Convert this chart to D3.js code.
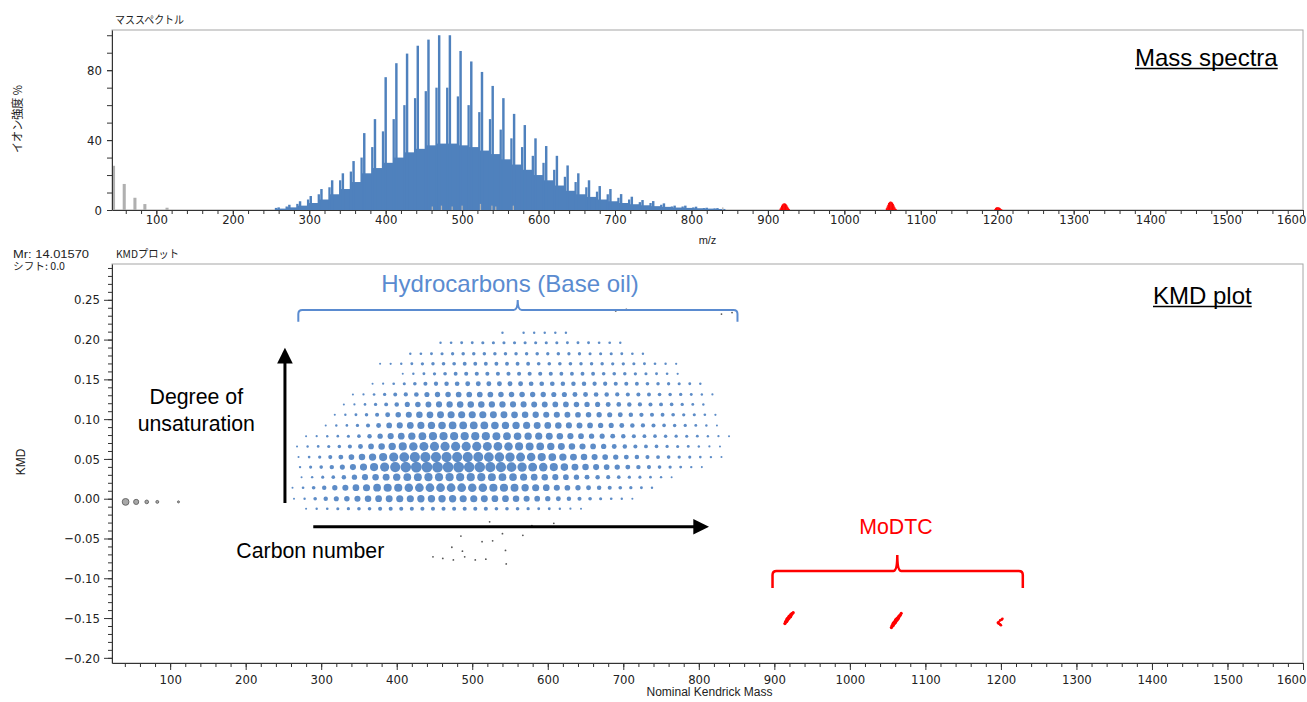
<!DOCTYPE html>
<html>
<head>
<meta charset="utf-8">
<title>Mass spectra / KMD plot</title>
<script src="https://cdn.jsdelivr.net/npm/d3@7"></script>
<style>
  body { margin: 0; background: #fff; }
  svg { display: block; }
</style>
</head>
<body>
<svg id="chart" width="1307" height="702"></svg>
<script>

// ---------- data ----------

// mass spectrum: CH2 ladder peaks (m/z), their height, the neighbour peak just below, and the fill in between (%)
var specMass   = [260, 274, 288, 302, 316, 330, 344, 358, 372, 386, 400, 414, 428, 442, 456, 470, 484, 498, 512, 526, 540,
                  554, 568, 582, 596, 610, 624, 638, 652, 666, 680, 694, 708, 722, 736, 750, 764, 778, 792, 806, 820, 834];
var specMain   = [1.5, 3, 5, 8, 12, 17, 21, 28, 44, 52, 76, 84, 89.5, 94, 97.5, 100, 100, 91, 85, 79, 71,
                  64, 55, 48.6, 41, 36.6, 31, 25.5, 21, 17, 13.7, 12, 9.1, 7.6, 5.7, 5.1, 3.8, 2.5, 2.5, 1.9, 1.3, 1.1];
var specSecond = [1.2, 2, 3.5, 6, 9, 13, 17, 22, 30, 36, 45, 52, 60, 64, 68, 70, 70, 65, 60, 56, 52,
                  46, 41, 36, 31, 27, 23, 19, 16, 13, 10.5, 9, 7, 6, 4.5, 4, 3, 2, 2, 1.5, 1.1, 0.9];
var specBase   = [0.8, 1.5, 2.5, 4, 6, 9, 12, 16, 21, 24, 27, 30, 33, 35, 37, 38, 38, 37, 36, 34, 32,
                  29, 26, 23, 20, 17, 14, 11, 9, 7.5, 6, 5, 4, 3.3, 2.7, 2.2, 1.8, 1.4, 1.2, 1, 0.8, 0.6];

// low mass fragments (grey)
var fragMass = [44, 58, 72, 85, 114];
var fragInt  = [25.3, 14.9, 7, 3.4, 1.3];

// small grey peaks inside the hydrocarbon envelope
var minorMass = [461, 473, 487, 500, 524, 539, 544, 567, 841];
var minorInt  = [2, 2.5, 2, 2.5, 3.5, 2.5, 2, 2.5, 1.5];

// MoDTC isotope clusters (red)
var modMass = [916, 917, 918, 919, 920, 921, 922, 923, 924, 925, 926, 927, 928,
               1055, 1056, 1057, 1058, 1059, 1060, 1061, 1062, 1063, 1064, 1065, 1066, 1067, 1068,
               1197, 1198, 1199, 1200, 1201, 1202, 1203, 1204, 1205, 1206];
var modInt  = [0.8, 1.5, 2.5, 3.2, 3.6, 3.8, 3.8, 3.6, 3.2, 2.6, 1.8, 1, 0.5,
               1, 2, 3, 4, 4.5, 4.8, 4.8, 4.6, 4.2, 3.5, 2.6, 1.6, 0.8, 0.4,
               0.6, 1.2, 1.5, 1.6, 1.6, 1.5, 1.3, 1, 0.6, 0.3];

// KMD plot: one row per hydrocarbon series, first nominal mass of the row, abundance per CH2 step
var CH2 = 14;
var rowKmd   = [-0.0126, 0.0000, 0.0138, 0.0271, 0.0397, 0.0523, 0.0657, 0.0786, 0.0921,
                0.1055, 0.1185, 0.1310, 0.1445, 0.1570, 0.1696, 0.1822, 0.1960, 0.2085];
var rowStart = [280, 264, 262, 274, 272, 270, 268, 280, 306, 318, 330, 342, 368, 408, 378, 418, 458, 540];
var rowAbund = [
  [1,1.4,1.7,2.3,2.6,3.2,3.2,4,4,4,4,4,4,4,4,4,4,4,3.2,3.2,3.2,2.6,2,2,1.4,1.2,1],
  [1,1.4,3.2,4.8,6.3,7.3,9,10.2,10.9,11.6,12.3,12.3,13,13,13,13,12.3,12.3,11.6,10.9,10.9,10.2,9,7.8,6.8,5.8,4.8,4,3.2,2.3,1.7,1.4,1],
  [1,1.7,3.2,4.8,6.8,9,10.9,12.3,14.4,16,16,17.6,18.5,18.5,18.5,18.5,18.5,17.6,17.6,16,16,15.2,13,12.3,10.9,9,7.8,6.8,5.8,4.8,4,3.2,2.6,2,1.4],
  [1,1.4,2.3,3.2,4.8,6.8,9,10.2,11.6,13,14.4,15.2,16,16,16,16,16,16,15.2,14.4,13.7,12.3,10.9,10.2,9,7.8,6.8,5.8,4.8,4,3.2,2.6,2.3,1.7,1.4,1],
  [1.4,2.3,3.2,4.8,6.3,9,12.3,16,20.3,25,27,28.1,28.1,28.1,28.1,28.1,27,27,25,25,23,21.2,19.4,17.6,16,13.7,11.6,10.2,9,7.8,6.8,5.8,4.8,4,3.2,2.6,2,1.4,1],
  [1,1.7,2.6,4,5.8,7.8,10.2,13,16,20.3,23,25,25,25,25,25,25,24,23,22.1,21.2,19.4,17.6,16,14.4,13,11.6,10.2,9,7.8,6.8,5.8,4.8,4,3.6,3.2,2.6,2.3,1.7,1.4,1],
  [1,1.4,1.7,2.3,2.9,4,5.8,7.8,10.2,13,16,17.6,19.4,20.3,20.3,20.3,20.3,20.3,19.4,18.5,17.6,16,15.2,14.4,13,11.6,10.2,9,7.8,6.8,5.8,4.8,4,3.6,3.2,2.6,2.3,2,1.4,1.2,1],
  [1,1.2,1.4,1.7,2.3,3.2,4.8,6.8,9,10.9,13,14.4,16,16,16,16,16,16,15.2,14.4,13.7,13,12.3,11.6,10.2,9,7.8,6.8,6.3,5.8,4.8,4,3.6,3.2,2.9,2.6,2.3,2,1.4,1.2,1],
  [1,1.4,1.7,2.6,4,5.8,7.8,9,10.9,12.3,13,13.7,14.4,14.4,14.4,14.4,13.7,13,13,12.3,11.6,10.9,10.2,9,8.4,7.8,6.8,6.3,5.8,4.8,4.4,4,3.2,2.9,2.6,2,1.4,1],
  [1,1.4,2,2.9,4,5.8,7.3,9,10.2,10.9,11.6,12.3,12.3,12.3,12.3,11.6,11.6,10.9,10.2,9.6,9,9,8.4,7.8,7.3,6.8,6.3,5.8,4.8,4.4,4,3.6,3.2,2.6,2.3,1.7,1.2],
  [1,1.2,1.7,2.6,3.6,4.8,6.3,7.3,8.4,9,9.6,10.2,10.2,10.2,9.6,9.6,9,9,8.4,8.4,7.8,7.8,7.3,6.8,6.3,5.8,5.3,4.8,4.4,4,3.6,3.2,2.6,2,1.4],
  [1,1.2,1.7,2.6,3.6,4.4,5.3,6.3,6.8,7.3,7.8,7.8,7.8,7.8,7.3,7.3,7.3,6.8,6.8,6.3,6.3,5.8,5.8,5.3,4.8,4.4,4,4,3.6,3.2,2.9,2.6,2,1.4,1.2],
  [1,1.2,1.7,2.3,3.2,4,4.4,4.8,5.3,5.8,5.8,5.8,5.8,5.8,5.8,5.3,5.3,5.3,4.8,4.8,4.8,4.4,4.4,4,4,3.6,3.2,2.9,2.6,2.3,2,1.4],
  [1,1.4,2,2.6,3.2,3.6,4,4,4,4,4,4,4,4,4,3.6,3.6,3.6,3.6,3.2,3.2,2.9,2.6,2.3,2,1.7,1.2],
  [1,1.2,1.4,2,2.6,2.9,3.2,3.2,3.6,3.6,3.6,3.6,3.6,3.6,3.6,3.2,3.2,3.2,3.2,2.9,2.9,2.9,2.6,2.6,2.3,2,1.7,1.4,1.2],
  [1.4,1.7,2,2.3,2.6,2.9,2.9,2.9,2.9,2.9,2.9,2.9,2.9,2.6,2.9,2.6,2.6,2.3,2.3,2.3,2,1.7,1.4],
  [1.4,1.7,2,2,2.3,2.3,2.3,2.3,2.3,2.3,2.3,2.3,2,2,2,1.7,1.7,1.4],
  [1.4,0,1.4,1.4,1.4,1.4,1.4]
];

// low mass fragments in the KMD plot
var fragKmdMass = [41, 55, 69, 83, 111];
var fragKmd     = [-0.004, -0.004, -0.004, -0.004, -0.004];
var fragAbund   = [11, 6.3, 3.2, 2, 1];

// other small (grey) points
var otherMass = [523, 540, 567, 579, 608, 485, 513, 527, 473, 487, 544, 448, 461, 475, 490, 504, 518, 545, 690, 704, 830, 844];
var otherKmd  = [-0.029, -0.044, -0.046, -0.034, -0.031, -0.047, -0.054, -0.053, -0.061, -0.066, -0.065,
                 -0.073, -0.075, -0.077, -0.073, -0.077, -0.076, -0.082, 0.236, 0.238, 0.232, 0.234];

// MoDTC points in the KMD plot
var modKmdMass = [914, 915, 916, 917, 918, 919, 920, 921, 922, 923, 924, 925,
                  1055, 1056, 1057, 1058, 1059, 1060, 1061, 1062, 1063, 1064, 1065, 1066, 1067, 1068,
                  1202, 1201, 1199, 1197, 1196, 1197, 1199, 1200];
var modKmd     = [-0.157, -0.155, -0.154, -0.152, -0.151, -0.150, -0.148, -0.148, -0.146, -0.145, -0.144, -0.143,
                  -0.162, -0.160, -0.159, -0.157, -0.156, -0.155, -0.153, -0.152, -0.151, -0.150, -0.148, -0.147, -0.146, -0.144,
                  -0.151, -0.152, -0.153, -0.155, -0.156, -0.157, -0.158, -0.159];
var modAbund   = [2.6, 3.2, 3.6, 4, 4, 4, 4, 4, 3.6, 3.2, 2.6, 2.3,
                  2.6, 3.2, 3.6, 4.4, 4.4, 4.4, 4.4, 4.4, 4, 3.6, 3.2, 2.9, 2.6, 2.3,
                  1.7, 1.7, 1.7, 1.7, 1.7, 1.7, 1.7, 1.7];

// axis ticks
var massTicks = [100, 200, 300, 400, 500, 600, 700, 800, 900, 1000, 1100, 1200, 1300, 1400, 1500, 1600];
var intTicks  = [0, 40, 80];
var kmdTicks  = [-0.20, -0.15, -0.10, -0.05, 0.00, 0.05, 0.10, 0.15, 0.20, 0.25];


var tickFont = "'Liberation Sans Narrow', 'DejaVu Sans Condensed', sans-serif";
var jpFont = "'Noto Sans CJK JP', sans-serif";
var textFont = "'Liberation Sans', Arial, sans-serif";

var svg = d3.select("#chart");
drawSpectrum(svg);
drawKmd(svg);


// styles a d3 axis group
function styleAxis(g) {
  g.attr("font-family", tickFont).attr("font-size", 13).attr("color", "#222");
  g.selectAll("line, path").attr("stroke", "#333");
  // last label would run off the right edge
  g.selectAll(".tick text")
    .filter(function(d) { return d === 1600; })
    .attr("text-anchor", "end")
    .attr("x", 3);
}

// bars with a given width in mass units
function bars(g, masses, values, x, y, lo, hi, color) {
  g.selectAll(null)
    .data(masses)
    .enter()
    .append("rect")
      .attr("x", function(d) { return x(d + lo); })
      .attr("width", function(d) { return x(d + hi) - x(d + lo); })
      .attr("y", function(d, i) { return y(values[i]); })
      .attr("height", function(d, i) { return y(0) - y(values[i]); })
      .attr("fill", color);
}

// curly brace opening downwards
function brace(g, xl, xt, xr, yb, yh, yt, color, w) {
  var r = 4;
  var p = "M" + xl + "," + yb +
          " L" + xl + "," + (yh + r) + " Q" + xl + "," + yh + " " + (xl + r) + "," + yh +
          " L" + (xt - r) + "," + yh + " Q" + xt + "," + yh + " " + xt + "," + yt +
          " Q" + xt + "," + yh + " " + (xt + r) + "," + yh +
          " L" + (xr - r) + "," + yh + " Q" + xr + "," + yh + " " + xr + "," + (yh + r) +
          " L" + xr + "," + yb;
  g.append("path").attr("d", p).attr("fill", "none").attr("stroke", color).attr("stroke-width", w);
}


function drawSpectrum(svg) {

  // plot box
  var left = 112, right = 1303, top = 30, bottom = 210;

  var x = d3.scaleLinear().domain([42, 1600]).range([left, right]);
  var y = d3.scaleLinear().domain([0, 103]).range([bottom, top]);

  var blue = "#4f81bd";

  svg.append("rect")
    .attr("x", left).attr("y", top)
    .attr("width", right - left).attr("height", bottom - top)
    .attr("fill", "none").attr("stroke", "#a6a6a6");

  var g = svg.append("g");

  // hydrocarbon envelope, neighbour peaks and ladder peaks
  bars(g, specMass, specBase, x, y, -4, 10.4, blue);
  bars(g, specMass, specSecond, x, y, -5, -2, blue);
  bars(g, specMass, specMain, x, y, -1.6, 1.6, blue);

  // grey peaks
  bars(g, minorMass, minorInt, x, y, -0.8, 0.8, "#b4b4b4");
  bars(g, fragMass, fragInt, x, y, -2, 2, "#b0b0b0");

  // MoDTC peaks
  bars(g, modMass, modInt, x, y, -0.8, 0.8, "#ff0000");

  // x-axis
  var gx = svg.append("g")
    .attr("transform", "translate(0," + bottom + ")")
    .call(d3.axisBottom(x).tickValues(massTicks).tickSize(5).tickPadding(0).tickSizeOuter(0).tickFormat(d3.format("d")));
  styleAxis(gx);
  var gxm = svg.append("g")
    .attr("transform", "translate(0," + bottom + ")")
    .call(d3.axisBottom(x).tickValues(d3.range(60, 1601, 20)).tickSize(4).tickFormat(""));
  gxm.select(".domain").remove();
  styleAxis(gxm);

  // y-axis
  var gy = svg.append("g")
    .attr("transform", "translate(" + left + ",0)")
    .call(d3.axisLeft(y).tickValues(intTicks).tickSize(5).tickPadding(5).tickSizeOuter(0));
  styleAxis(gy);
  var gym = svg.append("g")
    .attr("transform", "translate(" + left + ",0)")
    .call(d3.axisLeft(y).tickValues(d3.range(10, 101, 10)).tickSize(5).tickFormat(""));
  gym.select(".domain").remove();
  styleAxis(gym);

  // labels
  svg.append("text")
    .attr("x", 115).attr("y", 24)
    .attr("font-family", jpFont).attr("font-size", 11)
    .attr("textLength", 69).attr("lengthAdjust", "spacingAndGlyphs")
    .attr("fill", "#222")
    .text("マススペクトル");

  svg.append("text")
    .attr("transform", "translate(22,119) rotate(-90)")
    .attr("text-anchor", "middle")
    .attr("font-family", jpFont).attr("font-size", 12)
    .attr("textLength", 68).attr("lengthAdjust", "spacingAndGlyphs")
    .attr("fill", "#222")
    .text("イオン強度 %");

  svg.append("text")
    .attr("x", (left + right) / 2).attr("y", 244)
    .attr("text-anchor", "middle")
    .attr("font-family", textFont).attr("font-size", 11)
    .attr("fill", "#222")
    .text("m/z");

  // title with underline
  var t = svg.append("text")
    .attr("x", right - 168).attr("y", 66)
    .attr("font-family", textFont).attr("font-size", 24)
    .attr("fill", "#000")
    .text("Mass spectra");
  var tw = t.node().getComputedTextLength();
  svg.append("line")
    .attr("x1", right - 168).attr("x2", right - 168 + tw)
    .attr("y1", 68.5).attr("y2", 68.5)
    .attr("stroke", "#000").attr("stroke-width", 1.7);
}


function drawKmd(svg) {

  // plot box
  var left = 112, right = 1303, top = 264, bottom = 663;

  var x = d3.scaleLinear().domain([23, 1600]).range([left, right]);
  var y = d3.scaleLinear().domain([-0.2065, 0.295]).range([bottom, top]);
  var r = d3.scaleSqrt().domain([0, 28.1]).range([0, 5.4]);

  svg.append("rect")
    .attr("x", left).attr("y", top)
    .attr("width", right - left).attr("height", bottom - top)
    .attr("fill", "none").attr("stroke", "#a6a6a6");

  // flatten the hydrocarbon rows
  var bubbles = [];
  rowAbund.forEach(function(row, i) {
    row.forEach(function(ab, j) {
      if (ab > 0) {
        bubbles.push({ mass: rowStart[i] + CH2 * j, kmd: rowKmd[i], ab: ab });
      }
    });
  });

  var g = svg.append("g");

  g.selectAll("circle.hc")
    .data(bubbles)
    .enter()
    .append("circle")
      .attr("class", "hc")
      .attr("cx", function(d) { return x(d.mass); })
      .attr("cy", function(d) { return y(d.kmd); })
      .attr("r", function(d) { return r(d.ab); })
      .attr("fill", "#5486c4")
      .attr("fill-opacity", 0.95);

  // low mass fragments
  g.selectAll("circle.frag")
    .data(fragKmdMass)
    .enter()
    .append("circle")
      .attr("class", "frag")
      .attr("cx", function(d) { return x(d); })
      .attr("cy", function(d, i) { return y(fragKmd[i]); })
      .attr("r", function(d, i) { return r(fragAbund[i]); })
      .attr("fill", "#a8a8a8")
      .attr("stroke", "#6a6a6a")
      .attr("stroke-width", 1);

  // other points
  g.selectAll("circle.other")
    .data(otherMass)
    .enter()
    .append("circle")
      .attr("class", "other")
      .attr("cx", function(d) { return x(d); })
      .attr("cy", function(d, i) { return y(otherKmd[i]); })
      .attr("r", 0.9)
      .attr("fill", "#555");

  // MoDTC
  g.selectAll("circle.mo")
    .data(modKmdMass)
    .enter()
    .append("circle")
      .attr("class", "mo")
      .attr("cx", function(d) { return x(d); })
      .attr("cy", function(d, i) { return y(modKmd[i]); })
      .attr("r", function(d, i) { return r(modAbund[i]); })
      .attr("fill", "#ff0000");

  // x-axis
  var gx = svg.append("g")
    .attr("transform", "translate(0," + bottom + ")")
    .call(d3.axisBottom(x).tickValues(massTicks).tickSize(7).tickPadding(5).tickSizeOuter(0).tickFormat(d3.format("d")));
  styleAxis(gx);
  var gxm = svg.append("g")
    .attr("transform", "translate(0," + bottom + ")")
    .call(d3.axisBottom(x).tickValues(d3.range(40, 1601, 20)).tickSize(4).tickFormat(""));
  gxm.select(".domain").remove();
  styleAxis(gxm);

  // y-axis
  var gy = svg.append("g")
    .attr("transform", "translate(" + left + ",0)")
    .call(d3.axisLeft(y).tickValues(kmdTicks).tickSize(8).tickPadding(4).tickSizeOuter(0).tickFormat(d3.format(".2f")));
  styleAxis(gy);
  var gym = svg.append("g")
    .attr("transform", "translate(" + left + ",0)")
    .call(d3.axisLeft(y).tickValues(d3.range(-20, 30).map(function(v) { return v / 100; })).tickSize(4).tickFormat(""));
  gym.select(".domain").remove();
  styleAxis(gym);

  // axis labels
  svg.append("text")
    .attr("x", (left + right) / 2 + 2).attr("y", 696)
    .attr("text-anchor", "middle")
    .attr("font-family", textFont).attr("font-size", 12)
    .attr("fill", "#222")
    .text("Nominal Kendrick Mass");

  svg.append("text")
    .attr("transform", "translate(25,462) rotate(-90)")
    .attr("text-anchor", "middle")
    .attr("font-family", textFont).attr("font-size", 12)
    .attr("fill", "#222")
    .text("KMD");

  svg.append("text")
    .attr("x", 116).attr("y", 258)
    .attr("font-family", jpFont).attr("font-size", 11)
    .attr("textLength", 63).attr("lengthAdjust", "spacingAndGlyphs")
    .attr("fill", "#222")
    .text("KMDプロット");

  svg.append("text")
    .attr("x", 13).attr("y", 257.5)
    .attr("font-family", textFont).attr("font-size", 11.5)
    .attr("textLength", 76).attr("lengthAdjust", "spacingAndGlyphs")
    .attr("fill", "#222")
    .text("Mr: 14.01570");

  svg.append("text")
    .attr("x", 13).attr("y", 270)
    .attr("font-family", jpFont).attr("font-size", 10.5)
    .attr("textLength", 52).attr("lengthAdjust", "spacingAndGlyphs")
    .attr("fill", "#222")
    .text("シフト: 0.0");

  // title with underline
  var t = svg.append("text")
    .attr("x", right - 150).attr("y", 304)
    .attr("font-family", textFont).attr("font-size", 24)
    .attr("fill", "#000")
    .text("KMD plot");
  var tw = t.node().getComputedTextLength();
  svg.append("line")
    .attr("x1", right - 150).attr("x2", right - 150 + tw)
    .attr("y1", 306.5).attr("y2", 306.5)
    .attr("stroke", "#000").attr("stroke-width", 1.7);

  // ---- annotations ----
  var a = svg.append("g");

  // degree of unsaturation arrow
  var vx = x(252);
  a.append("line")
    .attr("x1", vx).attr("x2", vx)
    .attr("y1", y(-0.0054)).attr("y2", y(0.172))
    .attr("stroke", "#000").attr("stroke-width", 3);
  a.append("path")
    .attr("d", "M" + vx + "," + y(0.1898) + " L" + (vx - 7.8) + "," + y(0.170) + " L" + (vx + 7.8) + "," + y(0.170) + " Z")
    .attr("fill", "#000");

  a.append("text")
    .attr("x", x(134.6)).attr("y", y(0.1187))
    .attr("text-anchor", "middle")
    .attr("font-family", textFont).attr("font-size", 21.3)
    .attr("fill", "#000")
    .text("Degree of");
  a.append("text")
    .attr("x", x(134.6)).attr("y", y(0.0857))
    .attr("text-anchor", "middle")
    .attr("font-family", textFont).attr("font-size", 21.3)
    .attr("fill", "#000")
    .text("unsaturation");

  // carbon number arrow
  var hy = y(-0.0352);
  a.append("line")
    .attr("x1", x(289.5)).attr("x2", x(795))
    .attr("y1", hy).attr("y2", hy)
    .attr("stroke", "#000").attr("stroke-width", 3);
  a.append("path")
    .attr("d", "M" + x(813.5) + "," + hy + " L" + x(792.7) + "," + (hy - 7.7) + " L" + x(792.7) + "," + (hy + 7.7) + " Z")
    .attr("fill", "#000");

  a.append("text")
    .attr("x", x(285.6)).attr("y", y(-0.0749))
    .attr("text-anchor", "middle")
    .attr("font-family", textFont).attr("font-size", 21.3)
    .attr("fill", "#000")
    .text("Carbon number");

  // hydrocarbons brace
  var hcBlue = "#5a8bd0";
  brace(a, x(269.7), x(560.2), x(851.2), y(0.2225), y(0.2372), y(0.2498), hcBlue, 2);
  a.append("text")
    .attr("x", x(550)).attr("y", y(0.2602))
    .attr("text-anchor", "middle")
    .attr("font-family", textFont).attr("font-size", 24)
    .attr("fill", hcBlue)
    .text("Hydrocarbons (Base oil)");

  // MoDTC brace
  brace(a, x(897.6), x(1062.8), x(1229), y(-0.1122), y(-0.0909), y(-0.0708), "#ff0000", 2.5);
  a.append("text")
    .attr("x", x(1061)).attr("y", y(-0.0444))
    .attr("text-anchor", "middle")
    .attr("font-family", textFont).attr("font-size", 21.3)
    .attr("fill", "#ff0000")
    .text("MoDTC");
}

</script>
</body>
</html>
